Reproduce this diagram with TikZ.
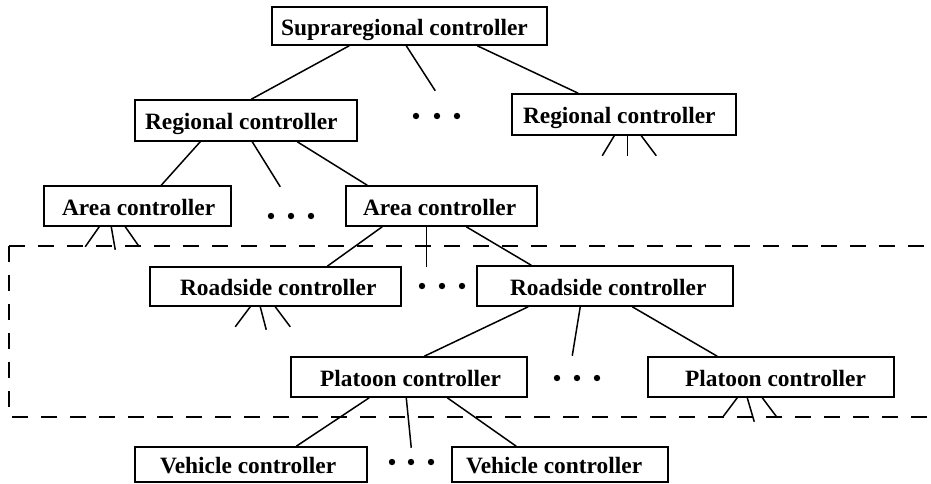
\documentclass[tikz,border=0pt]{standalone}
\usepackage{fontspec}
\setmainfont{Liberation Serif}
\newcommand\cbx[3]{\makebox[#1pt][l]{\hspace{#2pt}#3}}
\begin{document}
\begin{tikzpicture}[x=1pt,y=-1pt,
  ctrl/.style={draw, line width=1.5pt, inner sep=0pt, text height=18pt, text depth=0pt,
    font=\bfseries\fontsize{23.4}{27}\selectfont},
  link/.style={line width=1.5pt},
  dashline/.style={line width=1.5pt, dash pattern=on 16pt off 13pt},
  dotmark/.style={fill=black}]
\useasboundingbox (0,0) rectangle (931,483);

% dashed region
\begin{scope}
\clip (0,0) rectangle (931,483);
\draw[dashline] (9,246) -- (945,246);
\draw[dashline] (9,246) -- (9,417) -- (945,417);
\end{scope}

% boxes
\node[ctrl, minimum height=38pt] (sup) at (409.5,26) {\cbx{275}{9}{Supraregional controller}};
\node[ctrl, minimum height=41pt] (rl) at (246,120.5) {\cbx{222}{10}{Regional controller}};
\node[ctrl, minimum height=41pt] (rr) at (624,114.5) {\cbx{224}{11}{Regional controller}};
\node[ctrl, minimum height=40pt] (al) at (137.5,206) {\cbx{187}{18}{Area controller}};
\node[ctrl, minimum height=40pt] (ar) at (441.5,206) {\cbx{191}{17}{Area controller}};
\node[ctrl, minimum height=39pt] (sl) at (275.5,286.5) {\cbx{251}{30}{Roadside controller}};
\node[ctrl, minimum height=40pt] (sr) at (605,286) {\cbx{256}{33}{Roadside controller}};
\node[ctrl, minimum height=40pt] (pl) at (409,377) {\cbx{236}{29}{Platoon controller}};
\node[ctrl, minimum height=40pt] (pr) at (771,377) {\cbx{246}{37}{Platoon controller}};
\node[ctrl, minimum height=35pt] (vl) at (251,464.5) {\cbx{232}{25}{Vehicle controller}};
\node[ctrl, minimum height=35pt] (vr) at (560,464.5) {\cbx{216}{14}{Vehicle controller}};

% supraregional
\draw[link] ([xshift=78pt]sup.south west) -- ([xshift=117pt]rl.north west);
\draw[link] ([xshift=135pt]sup.south west) -- ++(29,45);
\draw[link] ([xshift=206pt]sup.south west) -- ([xshift=67pt]rr.north west);
% right regional stubs
\draw[link] ([xshift=103pt]rr.south west) -- ++(-12,20);
\draw[link] ([xshift=116pt]rr.south west) -- ++(0,20);
\draw[link] ([xshift=130pt]rr.south west) -- ++(15,20);
% left regional
\draw[link] ([xshift=66pt]rl.south west) -- ([xshift=118pt]al.north west);
\draw[link] ([xshift=118pt]rl.south west) -- ++(28,45);
\draw[link] ([xshift=163pt]rl.south west) -- ([xshift=22pt]ar.north west);
% left area stubs
\draw[link] ([xshift=56pt]al.south west) -- ++(-14,20);
\draw[link] ([xshift=68pt]al.south west) -- ++(4,23);
\draw[link] ([xshift=82pt]al.south west) -- ++(14,20);
% right area
\draw[link] ([xshift=37pt]ar.south west) -- ([xshift=178pt]sl.north west);
\draw[link] ([xshift=81pt]ar.south west) -- ++(0,40);
\draw[link] ([xshift=121pt]ar.south west) -- ([xshift=55pt]sr.north west);
% left roadside stubs
\draw[link] ([xshift=101pt]sl.south west) -- ++(-15,20);
\draw[link] ([xshift=111pt]sl.south west) -- ++(6,23);
\draw[link] ([xshift=126pt]sl.south west) -- ++(15,20);
% right roadside
\draw[link] ([xshift=52pt]sr.south west) -- ([xshift=134pt]pl.north west);
\draw[link] ([xshift=104pt]sr.south west) -- ++(-8,49);
\draw[link] ([xshift=156pt]sr.south west) -- ([xshift=70pt]pr.north west);
% right platoon stubs
\draw[link] ([xshift=90pt]pr.south west) -- ++(-15,20);
\draw[link] ([xshift=100pt]pr.south west) -- ++(7,24);
\draw[link] ([xshift=115pt]pr.south west) -- ++(15,20);
% left platoon
\draw[link] ([xshift=79pt]pl.south west) -- ([xshift=162pt]vl.north west);
\draw[link] ([xshift=116pt]pl.south west) -- ++(5,50);
\draw[link] ([xshift=157pt]pl.south west) -- ([xshift=65pt]vr.north west);

% ellipsis dots
\foreach \x/\y in {416/116,437/116,457/116,
                   271/216,291/216,311/216,
                   422/286,442/286,462/286,
                   557/378,577/378,597/378,
                   392/462,411/462,431/462}
  \fill[dotmark] (\x,\y) circle (3.2);
\end{tikzpicture}
\end{document}
